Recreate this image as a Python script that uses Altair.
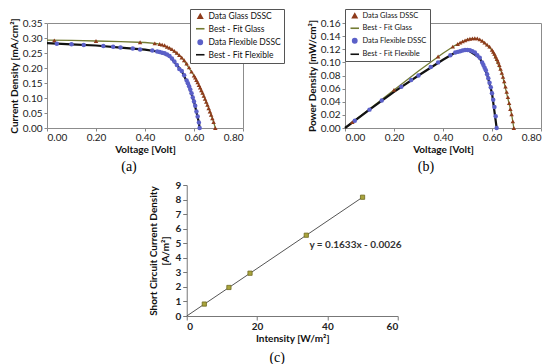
import altair as alt
import pandas as pd

# ---------------- series names / colours ----------------
series_names = ["Data Glass DSSC", "Best - Fit Glass", "Data Flexible DSSC", "Best - Fit Flexible"]
series_colors = ["#8E3B1B", "#737B33", "#5B60C8", "#111111"]
series_shapes = ["triangle-up", "M-2,0H2", "circle", "M-2,0H2"]

# ---------------- (a) current density vs voltage ----------------
a_glass_v = [0.03, 0.20, 0.38, 0.44, 0.46, 0.47, 0.48, 0.49, 0.50, 0.51, 0.52, 0.53, 0.54, 0.55,
             0.56, 0.57, 0.58, 0.59, 0.60, 0.605, 0.61, 0.615, 0.62, 0.625, 0.63, 0.635, 0.64,
             0.645, 0.65, 0.655, 0.66, 0.665, 0.67, 0.675, 0.68, 0.687]
a_glass_j = [0.292, 0.290, 0.286, 0.282, 0.280, 0.278, 0.276, 0.271, 0.267, 0.263, 0.257, 0.251,
             0.243, 0.235, 0.226, 0.215, 0.202, 0.188, 0.175, 0.168, 0.160, 0.152, 0.143, 0.135,
             0.126, 0.117, 0.107, 0.097, 0.087, 0.077, 0.066, 0.055, 0.044, 0.032, 0.020, 0.0]
a_flex_v = [0.04, 0.10, 0.15, 0.23, 0.27, 0.30, 0.35, 0.38, 0.43, 0.45, 0.46, 0.47, 0.48, 0.49,
            0.50, 0.51, 0.52, 0.53, 0.54, 0.55, 0.56, 0.57, 0.575, 0.58, 0.585, 0.59, 0.595,
            0.60, 0.605, 0.61, 0.615, 0.62, 0.623]
a_flex_j = [0.281, 0.279, 0.277, 0.273, 0.271, 0.268, 0.265, 0.262, 0.258, 0.255, 0.253, 0.251,
            0.249, 0.245, 0.240, 0.232, 0.222, 0.210, 0.197, 0.190, 0.176, 0.158, 0.149, 0.139,
            0.128, 0.116, 0.102, 0.088, 0.074, 0.055, 0.038, 0.018, 0.0]
a_fitg_v = [0.0, 0.1, 0.2, 0.3, 0.4, 0.45, 0.5, 0.55, 0.6, 0.62, 0.64, 0.66, 0.68, 0.687]
a_fitg_j = [0.293, 0.292, 0.290, 0.288, 0.285, 0.281, 0.267, 0.235, 0.175, 0.143, 0.107, 0.066, 0.020, 0.0]
a_fitf_v = [0.0, 0.1, 0.2, 0.3, 0.4, 0.45, 0.5, 0.55, 0.58, 0.6, 0.62, 0.623]
a_fitf_j = [0.283, 0.279, 0.275, 0.268, 0.261, 0.255, 0.240, 0.190, 0.139, 0.088, 0.018, 0.0]

# ---------------- (b) power density vs voltage ----------------
b_glass_v = [0.03, 0.20, 0.38, 0.44, 0.46, 0.47, 0.48, 0.49, 0.50, 0.51, 0.52, 0.53, 0.54, 0.55,
             0.56, 0.57, 0.58, 0.59, 0.60, 0.605, 0.61, 0.615, 0.62, 0.625, 0.63, 0.635, 0.64,
             0.645, 0.65, 0.655, 0.66, 0.665, 0.67, 0.675, 0.68, 0.685, 0.689]
b_glass_p = [0.009, 0.058, 0.109, 0.124, 0.128, 0.130, 0.132, 0.1335, 0.135, 0.136, 0.1365, 0.1367,
             0.1365, 0.135, 0.133, 0.130, 0.127, 0.124, 0.119, 0.116, 0.113, 0.109, 0.105, 0.101,
             0.096, 0.090, 0.084, 0.078, 0.071, 0.063, 0.055, 0.047, 0.038, 0.029, 0.021, 0.010, 0.0]
b_flex_v = [0.04, 0.10, 0.15, 0.23, 0.27, 0.30, 0.35, 0.38, 0.43, 0.45, 0.46, 0.47, 0.48, 0.49,
            0.50, 0.51, 0.52, 0.53, 0.54, 0.55, 0.56, 0.565, 0.57, 0.575, 0.58, 0.585, 0.59,
            0.595, 0.60, 0.605, 0.61, 0.615, 0.619]
b_flex_p = [0.011, 0.028, 0.042, 0.063, 0.073, 0.080, 0.093, 0.100, 0.111, 0.115, 0.116, 0.117,
            0.118, 0.119, 0.119, 0.1185, 0.117, 0.115, 0.111, 0.107, 0.100, 0.096, 0.092, 0.088,
            0.082, 0.076, 0.069, 0.062, 0.053, 0.043, 0.032, 0.018, 0.0]
b_fitg_v = [0.0, 0.1, 0.2, 0.3, 0.4, 0.45, 0.5, 0.53, 0.56, 0.6, 0.64, 0.68, 0.689]
b_fitg_p = [0.0, 0.029, 0.058, 0.087, 0.114, 0.126, 0.135, 0.1367, 0.133, 0.119, 0.084, 0.021, 0.0]
b_fitf_v = [0.0, 0.1, 0.2, 0.3, 0.4, 0.45, 0.5, 0.55, 0.58, 0.6, 0.619]
b_fitf_p = [0.0, 0.028, 0.055, 0.080, 0.104, 0.115, 0.119, 0.107, 0.082, 0.053, 0.0]

# ---------------- (c) short-circuit current vs intensity ----------------
c_intensity = [5, 12, 18, 34, 50]
c_jsc = [0.82, 1.96, 2.94, 5.55, 8.16]
c_trend_x = [0, 50]
c_trend_y = [-0.0026, 8.16]
c_eq_text = ["y = 0.1633x - 0.0026"]
c_eq_x = [48]
c_eq_y = [4.9]

LABEL_FONT = "Lato"
LEGEND_FONT = "Lato"
SERIF = "Liberation Serif"

cscale = alt.Scale(domain=series_names, range=series_colors)
sscale = alt.Scale(domain=series_names, range=series_shapes)


def make_legend(lx, ly, fs):
    return alt.Legend(orient="none", legendX=lx, legendY=ly, fillColor="white",
                      strokeColor="#555555", padding=3, rowPadding=2.5, symbolSize=18,
                      symbolStrokeWidth=1.6, symbolOffset=3, labelOffset=4,
                      labelFont=LEGEND_FONT, labelFontSize=fs, labelColor="#111111")


def iv_panel(gv, gy, fv, fy, fgv, fgy, ffv, ffy, yvals, ytitle, w, h, lx, ly, lfs, caption, cdx):
    pts = pd.DataFrame({
        "V": gv + fv,
        "Y": gy + fy,
        "series": [series_names[0]] * len(gv) + [series_names[2]] * len(fv),
    })
    fitg = pd.DataFrame({"V": fgv, "Y": fgy, "series": [series_names[1]] * len(fgv)})
    fitf = pd.DataFrame({"V": ffv, "Y": ffy, "series": [series_names[3]] * len(ffv)})

    xaxis = alt.Axis(values=[0, 0.2, 0.4, 0.6, 0.8], format=".2f", title="Voltage [Volt]",
                     labelFont=LABEL_FONT, labelFontSize=10, labelColor="#222222",
                     titleFont=LABEL_FONT, titleFontSize=10, titleFontWeight="bold",
                     titleColor="#111111", titlePadding=2, labelPadding=1, tickSize=3,
                     tickColor="#888888", domain=False, grid=False)
    yaxis = alt.Axis(values=yvals, format=".2f", title=ytitle,
                     labelFont=LABEL_FONT, labelFontSize=10, labelColor="#222222",
                     titleFont=LABEL_FONT, titleFontSize=10, titleFontWeight="bold",
                     titleColor="#111111", titlePadding=3, labelPadding=2, tickSize=3,
                     tickColor="#888888", domain=False, grid=False)
    xs = alt.Scale(domain=[0, 0.8], nice=False)
    ys = alt.Scale(domain=[yvals[0], yvals[-1]], nice=False)
    leg = make_legend(lx, ly, lfs)

    def enc(ch):
        return ch.encode(
            x=alt.X("V:Q", scale=xs, axis=xaxis),
            y=alt.Y("Y:Q", scale=ys, axis=yaxis),
            color=alt.Color("series:N", scale=cscale, legend=leg, title=None),
        )

    lg = enc(alt.Chart(fitg).mark_line(strokeWidth=1.3))
    lf = enc(alt.Chart(fitf).mark_line(strokeWidth=2.2))
    pp = alt.Chart(pts).mark_point(filled=True, opacity=1, size=20).encode(
        x=alt.X("V:Q", scale=xs, axis=xaxis),
        y=alt.Y("Y:Q", scale=ys, axis=yaxis),
        color=alt.Color("series:N", scale=cscale, legend=leg, title=None),
        shape=alt.Shape("series:N", scale=sscale, legend=leg, title=None),
    )
    return alt.layer(lg, lf, pp).properties(
        width=w, height=h,
        title=alt.TitleParams(caption, orient="bottom", anchor="middle", frame="group",
                              dx=cdx, offset=6, font=SERIF, fontSize=14,
                              fontWeight="normal", color="#000000"),
    )


a = iv_panel(a_glass_v, a_glass_j, a_flex_v, a_flex_j, a_fitg_v, a_fitg_j, a_fitf_v, a_fitf_j,
             [0, 0.05, 0.10, 0.15, 0.20, 0.25, 0.30, 0.35], "Current Density [mA/cm²]",
             196, 105, 143, -14, 8.5, "(a)", -16)
b = iv_panel(b_glass_v, b_glass_p, b_flex_v, b_flex_p, b_fitg_v, b_fitg_p, b_fitf_v, b_fitf_p,
             [0, 0.02, 0.04, 0.06, 0.08, 0.10, 0.12, 0.14, 0.16], "Power Density [mW/cm²]",
             196, 105, 0, -14, 7.5, "(b)", -17)

# ---------------- panel (c) ----------------
cdf = pd.DataFrame({"I": c_intensity, "J": c_jsc})
tdf = pd.DataFrame({"I": c_trend_x, "J": c_trend_y})
edf = pd.DataFrame({"I": c_eq_x, "J": c_eq_y, "t": c_eq_text})

cx = alt.X("I:Q", scale=alt.Scale(domain=[0, 60], nice=False),
           axis=alt.Axis(values=[0, 20, 40, 60], title="Intensity [W/m²]",
                         labelFont=LABEL_FONT, labelFontSize=10, labelFontWeight="bold",
                         labelColor="#222222", titleFont=LABEL_FONT, titleFontSize=10,
                         titleFontWeight="bold", titleColor="#111111", titlePadding=2,
                         labelPadding=1, tickSize=4, tickColor="#777777",
                         domainColor="#777777", grid=False))
cy = alt.Y("J:Q", scale=alt.Scale(domain=[0, 9], nice=False),
           axis=alt.Axis(values=list(range(10)), title=["Short Circuit Current Density", "[A/m²]"],
                         labelFont=LABEL_FONT, labelFontSize=10, labelFontWeight="bold",
                         labelColor="#222222", titleFont=LABEL_FONT, titleFontSize=10,
                         titleFontWeight="bold", titleColor="#111111", titlePadding=4,
                         labelPadding=2, tickSize=4, tickColor="#777777",
                         domainColor="#777777", grid=False))

c_line = alt.Chart(tdf).mark_line(color="#555555", strokeWidth=1).encode(x=cx, y=cy)
c_pts = alt.Chart(cdf).mark_square(size=18, color="#A9A43C", stroke="#6E6A22",
                                   strokeWidth=0.8, opacity=1).encode(x=cx, y=cy)
c_txt = alt.Chart(edf).mark_text(font=LABEL_FONT, fontSize=10, fontWeight="bold",
                                 color="#333333").encode(x=cx, y=cy, text="t:N")

c = alt.layer(c_line, c_pts, c_txt).properties(
    width=211, height=131,
    view=alt.ViewBackground(stroke="transparent"),
    title=alt.TitleParams("(c)", orient="bottom", anchor="middle", frame="group",
                          dx=-15, offset=8, font=SERIF, fontSize=14,
                          fontWeight="normal", color="#000000"),
)

top = alt.hconcat(a, b, spacing=102, bounds="flush").resolve_scale(
    color="independent", shape="independent"
).resolve_legend(color="independent", shape="independent")
chart = alt.vconcat(top, c, spacing=4, center=True).properties(
    padding=0, background="white"
).configure_view(stroke="#8c8c8c", strokeWidth=1)

chart.save("out.html", embed_options={"renderer": "svg", "actions": False})
